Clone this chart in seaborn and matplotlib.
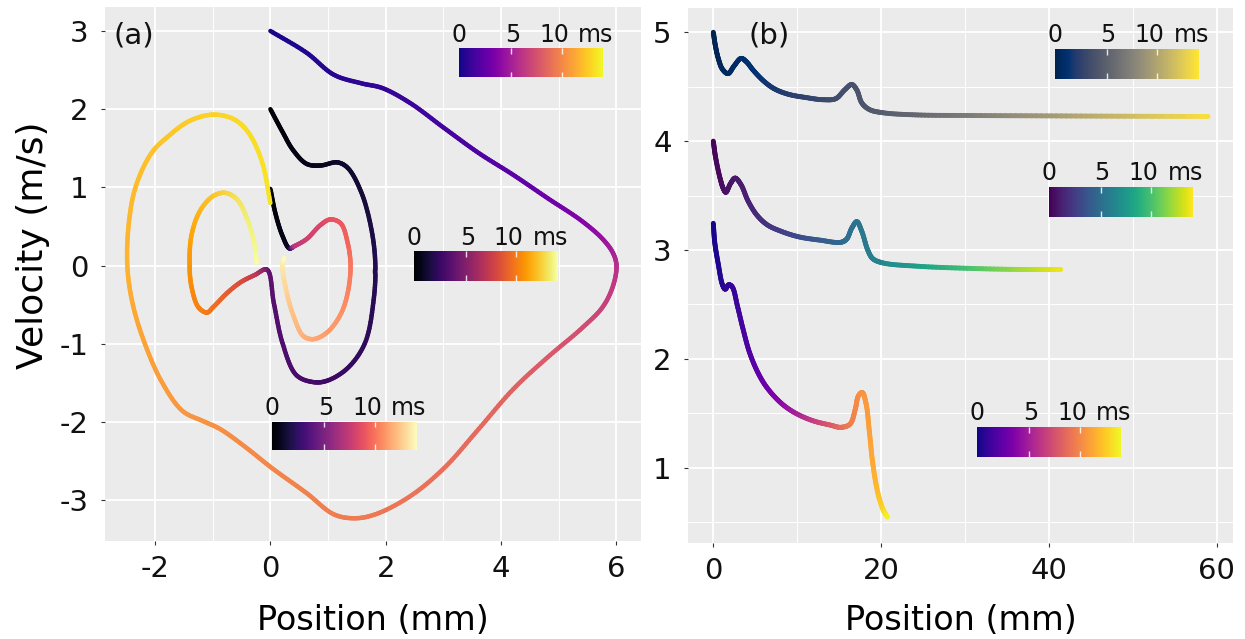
import numpy as np
import matplotlib
matplotlib.use("Agg")
import matplotlib.pyplot as plt
from matplotlib.collections import LineCollection
from matplotlib.colors import Normalize
import seaborn as sns

# ---------------- data: panel (a)  position (mm), velocity (m/s), time (ms)
a_plasma_x = [0.0, 0.63, 1.10, 1.58, 1.94, 2.42, 3.01, 3.61, 4.21, 4.81, 5.40, 5.76, 5.94, 6.00,
              5.94, 5.76, 5.40, 4.81, 4.21, 3.61, 3.01, 2.42, 1.82, 1.46, 1.10, 0.63, 0.03, -0.45,
              -0.87, -1.16, -1.52, -1.88, -2.18, -2.39, -2.48, -2.45, -2.33, -2.06, -1.76, -1.40,
              -0.99, -0.63, -0.39, -0.15, 0.0]
a_plasma_v = [3.0, 2.72, 2.44, 2.33, 2.27, 2.08, 1.76, 1.44, 1.16, 0.86, 0.57, 0.34, 0.16, 0.0,
              -0.26, -0.53, -0.80, -1.17, -1.58, -2.09, -2.59, -2.95, -3.18, -3.23, -3.18, -2.91,
              -2.59, -2.31, -2.09, -1.99, -1.86, -1.49, -0.99, -0.48, 0.0, 0.57, 1.02, 1.44, 1.66,
              1.85, 1.93, 1.87, 1.71, 1.34, 0.80]
a_plasma_t = [0, 0.22, 0.40, 0.60, 0.76, 0.98, 1.29, 1.66, 2.12, 2.71, 3.54, 4.33, 5.05, 5.80,
              6.26, 6.72, 7.26, 7.86, 8.30, 8.63, 8.89, 9.10, 9.30, 9.41, 9.52, 9.67, 9.89, 10.09,
              10.28, 10.42, 10.61, 10.82, 11.06, 11.35, 11.72, 11.83, 11.98, 12.20, 12.39, 12.59,
              12.81, 13.00, 13.13, 13.29, 13.43]

a_inferno_x = [0.0, 0.21, 0.39, 0.63, 0.87, 1.16, 1.34, 1.58, 1.76, 1.82, 1.79, 1.64, 1.34, 0.99,
               0.75, 0.45, 0.21, 0.06, -0.06, -0.27, -0.51, -0.75, -0.99, -1.10, -1.25, -1.37,
               -1.40, -1.37, -1.22, -0.99, -0.78, -0.57, -0.39, -0.27, -0.24]
a_inferno_v = [2.0, 1.71, 1.48, 1.30, 1.28, 1.32, 1.25, 0.93, 0.43, 0.0, -0.44, -0.99, -1.31, -1.47,
               -1.49, -1.40, -0.99, -0.48, -0.05, -0.12, -0.21, -0.35, -0.53, -0.60, -0.53, -0.26,
               0.0, 0.38, 0.70, 0.89, 0.93, 0.84, 0.57, 0.25, 0.04]
a_inferno_t = [0, 0.11, 0.22, 0.39, 0.58, 0.80, 0.94, 1.16, 1.42, 1.70, 1.84, 2.05, 2.31, 2.56,
               2.72, 2.93, 3.13, 3.33, 3.78, 6.95, 8.1, 8.8, 9.5, 9.8, 10.1, 10.4, 10.7, 11.2,
               11.7, 12.1, 12.5, 13.0, 13.4, 13.7, 14.0]

a_magma_x = [0.0, 0.09, 0.21, 0.33, 0.42, 0.63, 0.87, 1.04, 1.22, 1.34, 1.39, 1.34, 1.22, 0.99,
             0.75, 0.57, 0.39, 0.27, 0.21, 0.24]
a_magma_v = [0.98, 0.66, 0.38, 0.22, 0.25, 0.34, 0.52, 0.59, 0.54, 0.29, 0.0, -0.35, -0.62, -0.85,
             -0.94, -0.90, -0.62, -0.30, 0.0, 0.10]
a_magma_t = [0, 0.11, 0.34, 0.74, 6.95, 7.8, 8.2, 8.7, 9.0, 9.4, 10.0, 10.4, 10.8, 11.1, 11.4,
             11.7, 12.2, 12.8, 13.4, 14.0]

# ---------------- data: panel (b)
b_cividis_x = [0, 0.25, 0.59, 1.09, 1.76, 2.47, 3.31, 3.93, 4.77, 6.03, 7.28, 8.95, 11.05, 13.1,
               14.6, 15.65, 16.5, 17.1, 17.7, 18.6, 20.25, 24.4, 30.7, 39.1, 47.5, 58.96]
b_cividis_v = [5.0, 4.875, 4.76, 4.66, 4.62, 4.69, 4.76, 4.73, 4.65, 4.55, 4.48, 4.43, 4.40, 4.38,
               4.39, 4.47, 4.52, 4.47, 4.35, 4.29, 4.26, 4.24, 4.235, 4.232, 4.229, 4.226]
b_cividis_t = [0, 0.05, 0.12, 0.23, 0.37, 0.53, 0.70, 0.83, 1.01, 1.29, 1.56, 1.94, 2.41, 2.88,
               3.22, 3.46, 3.65, 3.78, 3.92, 4.13, 4.51, 5.49, 6.98, 8.96, 10.95, 13.66]

b_viridis_x = [0, 0.25, 0.8, 1.21, 1.5, 2.05, 2.6, 3.3, 4.14, 5.19, 6.44, 8.12, 10.2, 12.7, 15.2,
               15.9, 16.5, 17.1, 17.7, 18.4, 19.0, 20.25, 24.4, 30.7, 37.0, 41.4]
b_viridis_v = [4.0, 3.86, 3.66, 3.56, 3.53, 3.61, 3.66, 3.60, 3.45, 3.32, 3.23, 3.17, 3.12, 3.09,
               3.07, 3.10, 3.20, 3.26, 3.17, 3.0, 2.92, 2.88, 2.85, 2.83, 2.82, 2.82]
b_viridis_t = [0, 0.06, 0.21, 0.32, 0.41, 0.56, 0.71, 0.91, 1.14, 1.45, 1.84, 2.36, 3.02, 3.83,
               4.64, 4.87, 5.06, 5.24, 5.43, 5.66, 5.86, 6.29, 7.74, 9.96, 12.19, 13.75]

b_plasma_x = [0, 0.17, 0.59, 1.09, 1.42, 1.84, 2.26, 2.89, 3.52, 4.35, 5.4, 6.44, 8.12, 9.8, 11.9,
              13.98, 15.2, 16.3, 16.9, 17.3, 17.75, 18.2, 18.6, 19.0, 19.6, 20.25, 20.75]
b_plasma_v = [3.245, 3.07, 2.87, 2.68, 2.64, 2.68, 2.66, 2.48, 2.28, 2.05, 1.86, 1.73, 1.59, 1.50,
              1.43, 1.39, 1.37, 1.40, 1.53, 1.66, 1.69, 1.59, 1.33, 1.04, 0.77, 0.61, 0.545]
b_plasma_t = [0, 0.05, 0.20, 0.38, 0.50, 0.66, 0.82, 1.06, 1.33, 1.71, 2.25, 2.83, 3.84, 4.92,
              6.36, 7.83, 8.72, 9.51, 9.92, 10.17, 10.44, 10.71, 10.99, 11.33, 11.99, 12.93, 13.8]

# colour scale (ms) and colour-bar text
t_min, t_max = -0.2, 14.1
cbar_ticks = [5, 10]
cbar_labels = ["0", "5", "10", "ms"]

# axis ticks
a_xticks = [-2, 0, 2, 4, 6]
a_xminor = [-1, 1, 3, 5]
a_yticks = [-3, -2, -1, 0, 1, 2, 3]
b_xticks = [0, 20, 40, 60]
b_xminor = [10, 30, 50]
b_yticks = [1, 2, 3, 4, 5]
b_yminor = [0.5, 1.5, 2.5, 3.5, 4.5]

# ---------------- style
sns.set_theme(style="darkgrid", rc={
    "axes.facecolor": "#EBEBEB", "figure.facecolor": "white",
    "grid.color": "white", "axes.edgecolor": "none",
    "xtick.bottom": True, "ytick.left": True,
    "xtick.color": "#333333", "ytick.color": "#333333",
    "xtick.major.size": 3, "ytick.major.size": 3,
    "xtick.major.width": 0.8, "ytick.major.width": 0.8,
    "axes.unicode_minus": False,
})
plt.rcParams["font.family"] = ["DejaVu Sans"]
plt.rcParams["axes.unicode_minus"] = False

W, H = 1245, 639
fig = plt.figure(figsize=(W / 100, H / 100), dpi=100)


def frac(l, t, r, b):
    return [l / W, 1 - b / H, (r - l) / W, (b - t) / H]


axA = fig.add_axes(frac(105, 6.7, 641, 540.7))
axB = fig.add_axes(frac(688.3, 8.3, 1232.7, 542.7))
norm = Normalize(t_min, t_max)


def smooth_render(ax, x, y, t, nsub=14):
    """Centripetal Catmull-Rom drawing path through the read points (in display space)."""
    P = ax.transData.transform(np.column_stack([x, y]))
    T = np.asarray(t, float)
    P = np.vstack([2 * P[0] - P[1], P, 2 * P[-1] - P[-2]])
    out_p, out_t = [], []
    for i in range(1, len(P) - 2):
        p0, p1, p2, p3 = P[i - 1], P[i], P[i + 1], P[i + 2]
        d01 = max(np.linalg.norm(p1 - p0), 1e-6) ** 0.5
        d12 = max(np.linalg.norm(p2 - p1), 1e-6) ** 0.5
        d23 = max(np.linalg.norm(p3 - p2), 1e-6) ** 0.5
        t0, t1 = 0.0, d01
        t2, t3 = t1 + d12, t1 + d12 + d23
        u = np.linspace(t1, t2, nsub + 1)[:, None]
        if i > 1:
            u = u[1:]
        A1 = (t1 - u) / (t1 - t0) * p0 + (u - t0) / (t1 - t0) * p1
        A2 = (t2 - u) / (t2 - t1) * p1 + (u - t1) / (t2 - t1) * p2
        A3 = (t3 - u) / (t3 - t2) * p2 + (u - t2) / (t3 - t2) * p3
        B1 = (t2 - u) / (t2 - t0) * A1 + (u - t0) / (t2 - t0) * A2
        B2 = (t3 - u) / (t3 - t1) * A2 + (u - t1) / (t3 - t1) * A3
        C = (t2 - u) / (t2 - t1) * B1 + (u - t1) / (t2 - t1) * B2
        frac_u = ((u - t1) / (t2 - t1)).ravel()
        out_p.append(C)
        out_t.append(T[i - 1] + frac_u * (T[i] - T[i - 1]))
    pts = ax.transData.inverted().transform(np.vstack(out_p))
    return pts, np.concatenate(out_t)


def grad_line(ax, x, y, t, cmap, lw):
    pts, tt = smooth_render(ax, x, y, t)
    segs = np.stack([pts[:-1], pts[1:]], axis=1)
    lc = LineCollection(segs, cmap=cmap, norm=norm, linewidths=lw,
                        capstyle="round", joinstyle="round")
    lc.set_array(0.5 * (tt[:-1] + tt[1:]))
    ax.add_collection(lc)


def setup(ax, xlim, ylim, xt, xm, yt, ym):
    ax.set_xlim(*xlim)
    ax.set_ylim(*ylim)
    ax.set_xticks(xt)
    ax.set_yticks(yt)
    ax.set_xticks(xm, minor=True)
    ax.set_yticks(ym, minor=True)
    ax.grid(True, which="major", color="white", linewidth=1.3)
    ax.grid(True, which="minor", color="white", linewidth=0.7)
    ax.tick_params(which="minor", length=0)
    ax.tick_params(axis="both", which="major", labelsize=21, labelcolor="#111111")
    ax.tick_params(axis="x", pad=7)
    ax.tick_params(axis="y", pad=9)
    for s in ax.spines.values():
        s.set_visible(False)
    ax.set_axisbelow(True)


setup(axA, (-2.867, 6.425), (-3.517, 3.31), a_xticks, a_xminor, a_yticks, [])
setup(axB, (-2.98, 61.9), (0.31, 5.22), b_xticks, b_xminor, b_yticks, b_yminor)

lwA, lwB = 3.2, 3.5
grad_line(axA, a_magma_x, a_magma_v, a_magma_t, "magma", lwA)
grad_line(axA, a_inferno_x, a_inferno_v, a_inferno_t, "inferno", lwA)
grad_line(axA, a_plasma_x, a_plasma_v, a_plasma_t, "plasma", lwA)

grad_line(axB, b_cividis_x, b_cividis_v, b_cividis_t, "cividis", lwB)
grad_line(axB, b_viridis_x, b_viridis_v, b_viridis_t, "viridis", lwB)
grad_line(axB, b_plasma_x, b_plasma_v, b_plasma_t, "plasma", lwB)

axA.set_xlabel("Position (mm)", fontsize=24, color="black", va="center")
axA.xaxis.set_label_coords(0.5, -(620 - 540.7) / 534)
axA.set_ylabel("Velocity (m/s)", fontsize=26, color="black", va="center", ha="center")
axA.yaxis.set_label_coords((33 - 105) / 536, (540.7 - 245) / 534)
axB.set_xlabel("Position (mm)", fontsize=24, color="black", va="center")
axB.xaxis.set_label_coords(0.5, -(620 - 542.7) / 534.4)

axA.text(0.054, 0.947, "(a)", transform=axA.transAxes, fontsize=21,
         ha="center", va="center", color="#111111")
axB.text(0.148, 0.95, "(b)", transform=axB.transAxes, fontsize=21,
         ha="center", va="center", color="#111111")


def colorbar(cmap, l, t, r, b):
    cax = fig.add_axes(frac(l, t, r, b))
    grad = np.linspace(t_min, t_max, 256)[None, :]
    cax.imshow(grad, aspect="auto", cmap=cmap, norm=norm,
               extent=[t_min, t_max, 0, 1], interpolation="bilinear")
    cax.vlines(cbar_ticks, 0, 0.2, colors="white", lw=1, alpha=0.85)
    cax.vlines(cbar_ticks, 0.8, 1, colors="white", lw=1, alpha=0.85)
    cax.set_xlim(t_min, t_max)
    cax.set_ylim(0, 1)
    cax.axis("off")
    w = r - l
    offs = [0.0, 0.372, 0.66, 0.95]
    for txt, o in zip(cbar_labels, offs):
        fig.text((l + o * w) / W, 1 - (t - 6.5) / H, txt, ha="center",
                 va="baseline", fontsize=17, color="#111111")


colorbar("plasma", 459, 48.3, 603, 77.3)
colorbar("inferno", 414, 251, 557.3, 281)
colorbar("magma", 272, 421.7, 416, 450)
colorbar("cividis", 1054.6, 49, 1198.3, 78.6)
colorbar("viridis", 1048.6, 187, 1192.3, 216.8)
colorbar("plasma", 977, 427, 1121, 456.7)

fig.savefig("out.png", dpi=100)
